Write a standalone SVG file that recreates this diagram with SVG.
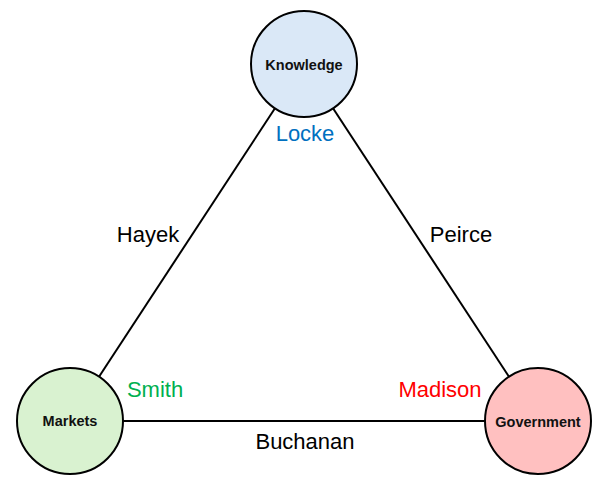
<svg xmlns="http://www.w3.org/2000/svg" width="607" height="487" viewBox="0 0 607 487">
<style>
.node{stroke:#000;stroke-width:2}
.nl{font-family:"Liberation Sans",Arial,sans-serif;font-weight:bold;font-size:14.5px;fill:#111;text-anchor:middle;dominant-baseline:central}
.el{font-family:"Liberation Sans",Arial,sans-serif;font-size:22px;fill:#000;text-anchor:middle;dominant-baseline:central}
.edge{stroke:#000;stroke-width:2;fill:none}
</style>
<rect width="607" height="487" fill="#fff"/>
<g id="connectors">
<line class="edge" x1="70" y1="421" x2="304" y2="64"/>
<line class="edge" x1="304" y1="64" x2="538" y2="421"/>
<line class="edge" x1="70" y1="421" x2="538" y2="421"/>
</g>
<g id="knowledge">
<circle class="node" cx="304" cy="64" r="53" fill="#DAE8F7"/>
<text class="nl" x="304" y="65">Knowledge</text>
</g>
<g id="markets">
<circle class="node" cx="70" cy="421" r="53" fill="#D9F2D0"/>
<text class="nl" x="70" y="421">Markets</text>
</g>
<g id="government">
<circle class="node" cx="538" cy="421" r="53" fill="#FFC0C0"/>
<text class="nl" x="538" y="422">Government</text>
</g>
<g id="labels">
<text class="el" x="305" y="133" style="fill:#0070C0">Locke</text>
<text class="el" x="148" y="234">Hayek</text>
<text class="el" x="461" y="234">Peirce</text>
<text class="el" x="155" y="389" style="fill:#00B050">Smith</text>
<text class="el" x="440" y="389" style="fill:#FF0000">Madison</text>
<text class="el" x="305" y="441">Buchanan</text>
</g>
</svg>
